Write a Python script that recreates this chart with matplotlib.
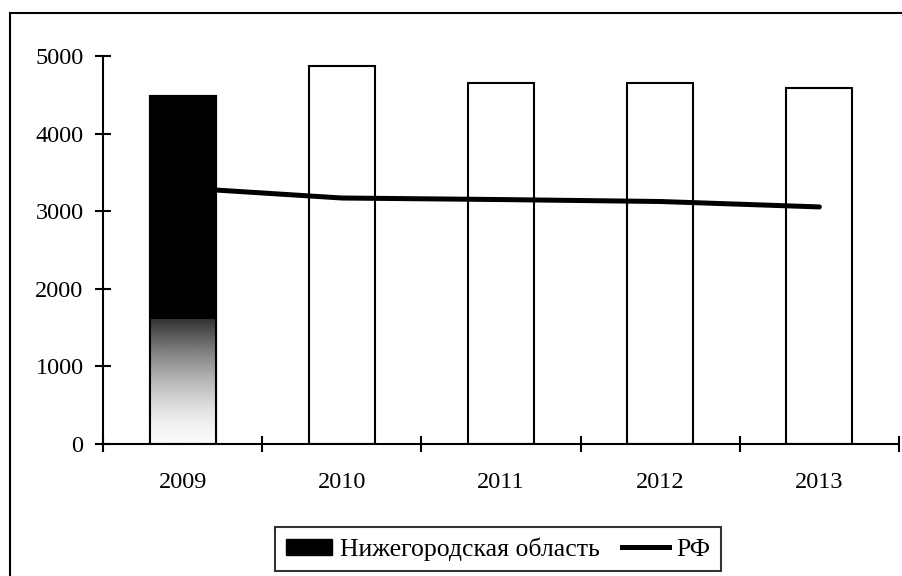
import numpy as np
import matplotlib
matplotlib.use("Agg")
import matplotlib.pyplot as plt
from matplotlib.patches import Rectangle
from matplotlib.lines import Line2D
from matplotlib.patches import Patch

years = ["2009", "2010", "2011", "2012", "2013"]
region_values = [4490, 4870, 4650, 4650, 4590]
rf_values = [3300, 3170, 3150, 3125, 3055]
series_names = ["Нижегородская область", "РФ"]
y_ticks = [0, 1000, 2000, 3000, 4000, 5000]

plt.rcParams['font.family'] = ['Liberation Serif', 'DejaVu Serif']

W, H = 903, 576
fig = plt.figure(figsize=(W / 100, H / 100), dpi=100)
ax = fig.add_axes([103 / W, 1 - 444 / H, (899 - 103) / W, (444 - 56) / H])

x = np.arange(len(years))
bw = 0.415
bars = ax.bar(x, region_values, width=bw, color="white", edgecolor="black",
              linewidth=1.5, zorder=2)
# first bar: black with gradient bottom
b0 = bars[0]
b0.set_facecolor("black")
grad_top = 1600
t = np.linspace(0, 1, 256)
g = 0.98 - 0.78 * t ** 1.6
img = np.repeat(g[:, None], 2, axis=1)
x0 = x[0] - bw / 2
ax.imshow(img, cmap="gray", vmin=0, vmax=1, origin="lower", aspect="auto",
          extent=[x0 + 0.008, x0 + bw - 0.008, 0, grad_top], zorder=2.5,
          interpolation="bilinear")
ax.bar(x[:1], region_values[:1], width=bw, facecolor="none", edgecolor="black",
       linewidth=1.5, zorder=2.6)

ax.plot(x, rf_values, color="black", linewidth=3.6, solid_capstyle="round",
        zorder=3)

ax.set_xlim(-0.5, len(years) - 0.5)
ax.set_ylim(0, 5000)
ax.spines["top"].set_visible(False)
ax.spines["right"].set_visible(False)
for s in ["left", "bottom"]:
    ax.spines[s].set_linewidth(1.5)
    ax.spines[s].set_zorder(4)

ax.set_yticks(y_ticks)
ax.set_yticklabels([str(v) for v in y_ticks], fontsize=17.5)
ax.tick_params(axis="y", direction="inout", length=11, width=1.5, pad=8.5)

ax.set_xticks(np.arange(-0.5, len(years), 1.0))
ax.set_xticklabels([])
ax.tick_params(axis="x", which="major", direction="inout", length=11, width=1.5)
ax.set_xticks(x, minor=True)
ax.set_xticklabels(years, minor=True, fontsize=17.5)
ax.tick_params(axis="x", which="minor", length=0, pad=20.5)

ax.patch.set_alpha(0)

# figure border
fig.patches.append(Rectangle((10 / W, -0.1), 1.1, 1 - 13 / H + 0.1,
                             transform=fig.transFigure, fill=False,
                             edgecolor="black", linewidth=1.5))

handles = [Patch(facecolor="black", edgecolor="black"),
           Line2D([0], [0], color="black", linewidth=3.6)]
leg = fig.legend(handles, series_names, loc="upper center",
                 bbox_to_anchor=(498 / W, 1 - 527 / H), ncol=2, fontsize=18.5,
                 frameon=True, fancybox=False, edgecolor="black",
                 handlelength=1.8, handleheight=0.6, handletextpad=0.3,
                 columnspacing=0.9, borderpad=0.4, borderaxespad=0)
leg.get_frame().set_linewidth(1.5)

fig.savefig("out.png", dpi=100)
